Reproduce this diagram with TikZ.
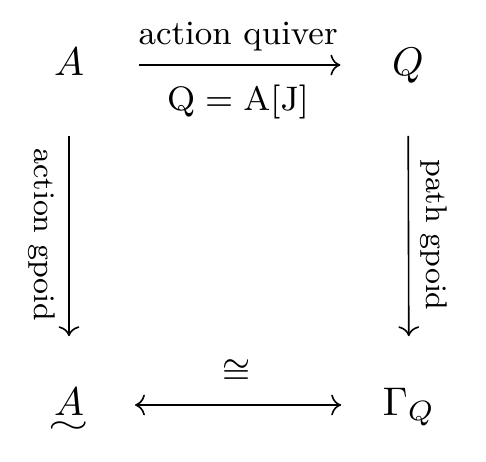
\documentclass[tikz,border=0pt]{standalone}
\usepackage{fix-cm}
\usepackage{amsmath,amssymb}
\usepackage{graphicx}
\usepackage{tikz}
\usetikzlibrary{arrows.meta}
\newcommand{\tilSob}[1]{\mathord{\vtop{\offinterlineskip
    \halign{\hfil##\hfil\cr$#1$\cr\noalign{\kern1.8pt}\scalebox{1.3}[0.8]{$\sim$}\cr}}}}
\tikzset{
    objeto/.style={
        inner sep=0pt,
        text height=7pt,
        text depth=2pt
    },
    rotulo/.style={
        font=\fontsize{8.5pt}{10pt}\selectfont,
        inner sep=1pt,
        text height=6pt,
        text depth=2pt
    },
    rotuloVertical/.style={rotulo, font=\fontsize{7.5pt}{9pt}\selectfont, rotate=-90},
    seta/.style={-{Computer Modern Rightarrow}},
    setaDupla/.style={{Computer Modern Rightarrow}-{Computer Modern Rightarrow}}
}

\begin{document}
\begin{tikzpicture}[x=0.25pt, y=-0.25pt]
    \useasboundingbox (0,0) rectangle (486,462);
    \node[objeto] (acao) at (69,65) {$A$};
    \node[objeto] (quiver) at (408,65) {$Q$};
    \node[objeto] (acaoGpd) at (69,405) {$\tilSob{A}$};
    \node[objeto] (caminhos) at (409,405) {$\Gamma_Q$};
    \draw[seta, shorten <=13.5pt, shorten >=12.75pt] (acao) --
        node[rotulo, above=2pt] {action quiver}
        node[rotulo, below=4.25pt] {$\mathrm{Q = A[J]}$} (quiver);
    \draw[seta, shorten <=13pt, shorten >=12.5pt] (acao) --
        node[xshift=-6.5pt, rotuloVertical] {action gpoid} (acaoGpd);
    \draw[seta, shorten <=13pt, shorten >=12.5pt] (quiver) --
        node[xshift=6.5pt, rotuloVertical] {path gpoid} (caminhos);
    \draw[setaDupla, shorten <=11.25pt, shorten >=10.25pt] (acaoGpd) --
        node[rotulo, above=2.75pt] {$\cong$} (caminhos);
\end{tikzpicture}
\end{document}
